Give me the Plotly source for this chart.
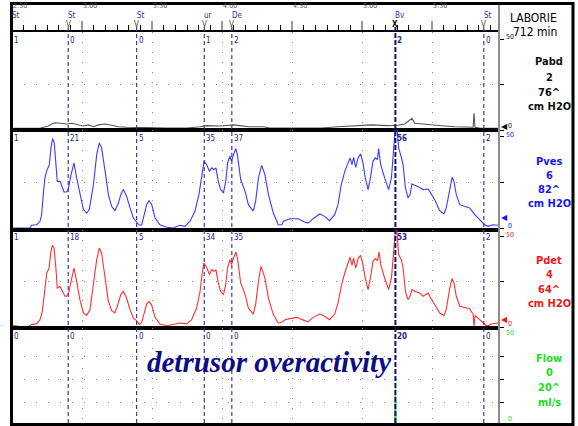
import plotly.graph_objects as go
from plotly.subplots import make_subplots

W, H = 578, 426

# ---------------- data ----------------
T_START, T_END = 150, 358.7          # seconds (2:30 .. ~5:59)
time_ticks = [150, 180, 210, 240, 270, 300, 330]
time_labels = ["2:30", "3:00", "3:30", "4:00", "4:30", "5:00", "5:30"]

event_t = [150, 174.1, 203.4, 232.4, 244.2, 314.3, 352.2]
event_names = ["St", "St", "St", "ur", "De", "Bv", "St"]
pabd_evt = ["1", "0", "0", "1", "2", "2", "0"]
pves_evt = ["1", "21", "5", "35", "37", "56", "2"]
pdet_evt = ["1", "18", "5", "34", "35", "53", "2"]
flow_evt = ["0", "0", "0", "0", "0", "20", "0"]

pabd_t = [150.0, 162.0, 163.4, 165.6, 167.0, 168.4, 170.6, 173.4, 175.6, 178.4,
          180.6, 182.7, 184.9, 187.0, 189.9, 192.7, 195.6, 199.1, 202.0, 207.7,
          216.3, 224.9, 230.6, 233.4, 239.1, 244.9, 247.7, 251.3, 254.9, 257.7,
          260.6, 264.9, 269.1, 275.4, 282.6, 289.7, 296.9, 304.0, 311.1, 315.4,
          318.3, 319.7, 321.4, 322.6, 325.4, 329.7, 335.4, 339.7, 345.4, 347.6,
          348.0, 348.4, 351.1, 354.0, 358.3]
pabd_v = [0.9, 0.9, 1.5, 2.2, 3.3, 4.0, 3.7, 3.3, 3.7, 2.8,
          2.2, 2.8, 1.8, 2.8, 3.3, 2.6, 1.8, 1.5, 1.3, 1.3,
          1.1, 1.1, 1.8, 2.4, 2.2, 2.8, 2.4, 1.8, 1.8, 1.8,
          1.1, 1.1, 1.5, 1.1, 1.1, 1.8, 2.2, 2.8, 2.4, 2.6,
          3.3, 4.6, 6.4, 3.7, 3.3, 2.8, 2.2, 1.8, 1.8, 1.5,
          9.2, 1.5, 0.9, 0.9, 0.9]

pves_t = [150.0, 154.1, 157.7, 158.4, 160.6, 162.0, 162.7, 163.4, 164.1, 164.9,
          166.0, 166.7, 167.4, 168.1, 168.9, 169.4, 170.6, 171.3, 172.3, 173.4,
          174.1, 175.3, 176.6, 177.7, 179.1, 180.6, 182.0, 183.1, 184.9, 186.3,
          187.4, 188.4, 189.9, 191.3, 192.7, 194.1, 195.6, 196.6, 197.7, 199.1,
          200.6, 202.0, 203.4, 204.6, 205.6, 206.6, 207.7, 208.7, 209.9, 211.3,
          213.4, 216.3, 219.1, 222.0, 224.1, 226.3, 228.4, 230.1, 231.3, 232.3,
          233.4, 234.6, 235.6, 236.6, 237.4, 238.4, 239.4, 240.6, 241.6, 242.4,
          243.4, 244.1, 244.9, 245.9, 246.6, 247.4, 248.0, 249.9, 251.3, 253.4,
          254.4, 255.6, 257.0, 258.4, 259.9, 262.0, 264.1, 265.6, 266.3, 269.1,
          272.6, 275.4, 276.9, 279.0, 281.9, 284.0, 286.1, 288.3, 289.7, 291.1,
          292.6, 294.3, 294.9, 295.7, 296.4, 297.3, 298.3, 299.4, 300.4, 301.4,
          302.6, 303.6, 304.7, 305.7, 306.6, 307.1, 308.0, 309.7, 311.4, 312.6,
          313.4, 314.3, 314.9, 315.7, 316.9, 317.6, 318.6, 319.7, 320.6, 321.4,
          322.6, 324.7, 326.1, 328.3, 329.0, 331.1, 333.3, 335.1, 336.1, 337.6,
          338.6, 339.4, 340.4, 341.9, 344.0, 346.1, 348.3, 350.4, 352.6, 354.0,
          356.1, 358.3]
pves_v = [0, 0, 0, 1.5, 1.8, 3.7, 7.3, 18.3, 27.5, 31.5,
          34.8, 44.0, 49.1, 46.7, 34.8, 25.6, 25.6, 22.9, 19.8, 19.8,
          21.1, 29.3, 35.7, 27.5, 18.3, 10.1, 8.2, 10.1, 23.8, 40.3,
          46.7, 44.0, 31.1, 18.3, 11.9, 9.5, 13.7, 18.3, 21.1, 17.4,
          11.0, 5.5, 3.3, 1.5, 1.8, 7.3, 12.8, 15.0, 12.8, 5.5,
          1.8, 0.4, 0, 1.5, 0.9, 3.7, 9.2, 18.3, 29.3, 36.6,
          34.8, 31.1, 33.0, 32.0, 33.0, 25.6, 21.1, 19.2, 25.6, 35.7,
          39.4, 36.6, 40.3, 43.6, 40.3, 31.1, 26.6, 20.1, 12.8, 9.2,
          14.6, 27.5, 34.4, 29.3, 18.3, 8.2, 1.8, 1.8, 3.7, 5.1,
          5.1, 3.3, 2.7, 5.1, 7.7, 6.4, 4.0, 7.3, 12.8, 23.8,
          31.1, 36.6, 38.5, 34.8, 38.8, 33.3, 38.5, 40.7, 35.7, 27.5,
          21.1, 27.5, 36.6, 38.5, 37.5, 43.6, 34.8, 27.5, 21.1, 27.5,
          40.3, 56, 56, 44.0, 38.5, 34.8, 22.0, 16.5, 18.3, 24.2,
          23.4, 22.3, 21.1, 21.4, 20.1, 15.6, 9.5, 7.7, 11.0, 22.0,
          27.8, 25.6, 18.3, 12.8, 11.7, 11.0, 7.3, 4.6, 1.8, 0.9,
          1.8, 1.5]

pdet_t = [150.0, 152.7, 154.9, 157.0, 158.4, 160.6, 162.0, 163.0, 163.9, 164.9,
          165.9, 166.6, 167.3, 168.0, 168.7, 169.4, 170.6, 171.6, 172.7, 173.4,
          174.3, 175.6, 176.6, 177.7, 179.1, 180.6, 182.0, 183.4, 184.9, 186.3,
          187.4, 188.4, 189.9, 191.3, 192.7, 194.1, 195.6, 196.6, 197.7, 199.1,
          200.6, 202.0, 203.4, 204.6, 205.6, 206.6, 207.7, 208.7, 209.9, 211.3,
          213.4, 216.3, 219.1, 222.0, 224.9, 227.0, 229.1, 230.6, 231.6, 232.3,
          233.4, 234.6, 235.6, 236.6, 237.4, 238.4, 239.4, 240.6, 241.6, 242.4,
          243.4, 244.1, 244.9, 246.0, 246.7, 247.4, 248.0, 249.9, 251.3, 253.4,
          254.4, 255.6, 256.7, 258.4, 259.9, 262.0, 264.1, 265.6, 267.0, 269.1,
          271.9, 275.4, 276.9, 279.0, 281.9, 284.0, 286.1, 288.3, 289.7, 291.1,
          292.6, 294.3, 294.9, 295.7, 296.4, 297.3, 298.3, 299.4, 300.4, 301.4,
          302.6, 303.6, 304.7, 305.7, 306.6, 307.3, 308.0, 309.7, 311.4, 312.6,
          313.4, 314.3, 314.9, 315.7, 316.9, 317.6, 318.6, 319.7, 320.6, 321.4,
          322.6, 324.7, 326.1, 328.3, 329.0, 331.1, 333.3, 335.1, 336.1, 337.6,
          338.6, 339.4, 340.4, 341.9, 344.0, 346.1, 347.6, 348.0, 348.4, 350.4,
          351.9, 353.6, 355.4, 358.3]
pdet_v = [0.9, 0.4, 0, 0.2, 1.3, 1.8, 4.0, 8.6, 19.6, 29.7,
          32.4, 40.7, 44.9, 43.4, 34.3, 21.4, 22.3, 19.6, 16.9, 16.9,
          18.7, 26.9, 32.4, 25.1, 15.0, 7.7, 6.4, 9.5, 22.3, 37.0,
          43.4, 40.7, 26.9, 14.1, 9.0, 7.7, 13.2, 17.8, 19.6, 15.9,
          9.5, 4.9, 3.5, 1.3, 2.6, 7.7, 12.6, 14.1, 11.9, 5.3,
          1.7, 0.7, 1.3, 2.2, 1.7, 4.0, 10.4, 19.6, 30.6, 35.2,
          32.8, 28.8, 31.5, 30.6, 31.5, 24.2, 19.6, 17.8, 23.3, 32.4,
          37.0, 34.3, 37.9, 41.2, 37.0, 28.8, 24.2, 17.8, 10.4, 7.1,
          12.3, 25.1, 33.3, 26.9, 15.9, 6.8, 2.2, 2.6, 4.0, 4.6,
          5.3, 3.5, 2.8, 5.3, 7.1, 5.9, 4.0, 7.1, 13.2, 22.3,
          29.7, 36.1, 38.3, 33.9, 37.9, 32.4, 37.6, 39.4, 34.3, 26.9,
          20.5, 26.9, 36.1, 37.6, 36.5, 41.2, 34.3, 26.9, 20.5, 26.9,
          39.7, 53, 53, 39.7, 37.0, 32.4, 19.6, 15.0, 16.9, 20.5,
          19.6, 18.7, 16.9, 18.7, 16.9, 12.6, 7.7, 6.4, 9.5, 21.4,
          26.6, 24.2, 16.9, 11.4, 10.8, 10.1, 7.1, 0.4, 6.4, 4.0,
          2.2, 0.4, 1.7, 2.2]

flow_t = [150, 314.0, 314.3, 314.6, 358.7]
flow_v = [0, 0, 20, 0, 0]

channel_names = ["Pabd", "Pves", "Pdet", "Flow"]
channel_current = ["2", "6", "4", "0"]
channel_max = ["76^", "82^", "64^", "20^"]
channel_units = ["cm H2O", "cm H2O", "cm H2O", "ml/s"]
channel_colors = ["#555555", "#3b3bff", "#ff3030", "#22dd22"]
label_colors = ["#111111", "#1818f0", "#f01818", "#22dd22"]
current_values = [2, 6, 4, 0]

# ---------------- layout helpers ----------------
def px(x):
    return x / W

def py(y):
    return 1 - y / H

# panel pixel bounds (top, bottom) and value ranges
panels = [(32, 130), (130, 230), (230, 328), (328, 423)]
ranges = [[0, 53.85], [-1.1, 53.8], [-0.55, 53.3], [1.1, 53.3]]
label_rows = [(62, 77, 92, 107), (161, 175, 189, 203), (260, 274, 289, 303), (358, 372, 387, 402)]

fig = make_subplots(rows=4, cols=1, shared_xaxes=True, vertical_spacing=0)

series = [(pabd_t, pabd_v), (pves_t, pves_v), (pdet_t, pdet_v), (flow_t, flow_v)]
for i, (tt, vv) in enumerate(series):
    fig.add_trace(go.Scatter(x=tt, y=vv, mode="lines",
                             line=dict(color=channel_colors[i], width=1.1),
                             hoverinfo="skip", showlegend=False), row=i + 1, col=1)

GRID = "#8a8a8a"
for i in range(4):
    top, bot = panels[i]
    xa = dict(range=[T_START, T_END], domain=[px(12), px(499)],
              showgrid=True, gridcolor=GRID, griddash="1px,9px", gridwidth=1,
              tickmode="array", tickvals=time_ticks, showticklabels=False,
              zeroline=False, showline=True, mirror=True, linecolor="black",
              linewidth=2, ticks="")
    if i == 0:
        xa.update(side="top", ticks="outside", ticklen=9, tickwidth=2, tickcolor="#9a9a9a",
                  minor=dict(tickmode="linear", tick0=150, dtick=5, ticks="outside",
                             ticklen=5, tickcolor="black", tickwidth=1, showgrid=False))
    fig.update_xaxes(row=i + 1, col=1, **xa)
    gv = [12.5, 25, 37.5] if i == 3 else [25]
    fig.update_yaxes(row=i + 1, col=1, domain=[py(bot), py(top)], range=ranges[i],
                     side="right", showgrid=True, gridcolor=GRID, griddash="1px,11px",
                     tickmode="array", tickvals=gv, ticks="outside", ticklen=4,
                     tickcolor="black", showticklabels=False, zeroline=False,
                     showline=False, fixedrange=True,
                     minor=dict(tickmode="array", tickvals=[0, 50] if i < 3 else [],
                                ticks="outside", ticklen=4, tickcolor="black",
                                showgrid=False))

shapes = []
# event lines
for t, name in zip(event_t, event_names):
    bv = name == "Bv"
    shapes.append(dict(type="line", xref="x", yref="paper", x0=t, x1=t,
                       y0=py(423), y1=py(27),
                       line=dict(color="#141470" if bv else "#3a3aa8",
                                 width=2 if bv else 1.2,
                                 dash="5px,2px" if bv else "4px,3px")))
# right separator
shapes.append(dict(type="line", xref="paper", yref="paper", x0=px(499), x1=px(499),
                   y0=py(424), y1=py(4), line=dict(color="#8c8c8c", width=2)))
# outer frame
shapes.append(dict(type="rect", xref="paper", yref="paper", x0=px(11.5), x1=px(573),
                   y0=py(424.5), y1=py(3.5), line=dict(color="black", width=3)))

ann = []
NARROW = "DejaVu Sans Condensed, Liberation Sans Narrow, Arial Narrow, Liberation Sans, sans-serif"
# time labels
for t, lab in zip(time_ticks, time_labels):
    ann.append(dict(x=t, xref="x", y=py(6), yref="paper", text=lab, showarrow=False,
                    xanchor="left", yanchor="middle", xshift=-1,
                    font=dict(family=NARROW, size=7, color="#555555")))
# event names and markers
for t, name in zip(event_t, event_names):
    ann.append(dict(x=t, xref="x", y=py(16), yref="paper", text=name, showarrow=False,
                    xanchor="left", yanchor="middle", xshift=-2,
                    font=dict(family=NARROW, size=8, color="#3333aa")))
    if t > T_START:
        mark = "<b>X</b>" if name == "Bv" else "V"
        ann.append(dict(x=t, xref="x", y=py(24), yref="paper", text=mark, showarrow=False,
                        xanchor="center", yanchor="middle",
                        font=dict(family=NARROW, size=8, color="#111111" if name == "Bv" else "#444444")))
# event values per panel
for i, vals in enumerate([pabd_evt, pves_evt, pdet_evt, flow_evt]):
    top = panels[i][0]
    for t, name, v in zip(event_t, event_names, vals):
        ann.append(dict(x=t, xref="x", y=py(top + 8), yref="paper",
                        text=("<b>%s</b>" % v) if name == "Bv" else v,
                        showarrow=False, xanchor="left", yanchor="middle", xshift=0,
                        font=dict(family=NARROW, size=8, color="#26268c")))

# right panel header
ann.append(dict(x=px(559), y=py(9), xref="paper", yref="paper", text="LABORIE",
                showarrow=False, xanchor="right",
                font=dict(family=NARROW, size=12, color="black")))
ann.append(dict(x=px(559), y=py(23), xref="paper", yref="paper", text="712 min",
                showarrow=False, xanchor="right",
                font=dict(family=NARROW, size=12, color="black")))

yrefs = ["y", "y2", "y3", "y4"]
for i in range(4):
    rows = label_rows[i]
    texts = [channel_names[i], channel_current[i], channel_max[i], channel_units[i]]
    for yy, tx in zip(rows, texts):
        ann.append(dict(x=px(549), y=py(yy), xref="paper", yref="paper", text="<b>%s</b>" % tx,
                        showarrow=False, xanchor="center", yanchor="middle",
                        font=dict(family=NARROW, size=11, color=label_colors[i])))
    top, bot = panels[i]
    # scale labels
    ann.append(dict(x=px(504), y=py(top + 5), xref="paper", yref="paper", text="50",
                    showarrow=False, xanchor="left", yanchor="middle",
                    font=dict(family=NARROW, size=7, color=label_colors[i])))
    ann.append(dict(x=px(506), y=py(bot - 4), xref="paper", yref="paper", text="0",
                    showarrow=False, xanchor="left", yanchor="middle",
                    font=dict(family=NARROW, size=7, color=label_colors[i])))
    # current value arrow
    ann.append(dict(x=T_END, xref="x", y=current_values[i], yref=yrefs[i], text="◀",
                    showarrow=False, xanchor="left", yanchor="middle", xshift=0,
                    font=dict(family="DejaVu Sans", size=8, color=label_colors[i])))

# overlay caption
ann.append(dict(x=px(269), y=py(380), xref="paper", yref="paper",
                text="<b><i>detrusor overactivity</i></b>", showarrow=False,
                font=dict(family="Liberation Serif, DejaVu Serif, serif", size=29, color="#0c0c88")))

fig.update_layout(width=W, height=H, margin=dict(l=0, r=0, t=0, b=0),
                  paper_bgcolor="white", plot_bgcolor="white",
                  shapes=shapes, annotations=ann, showlegend=False)

fig.write_html("out.html")
